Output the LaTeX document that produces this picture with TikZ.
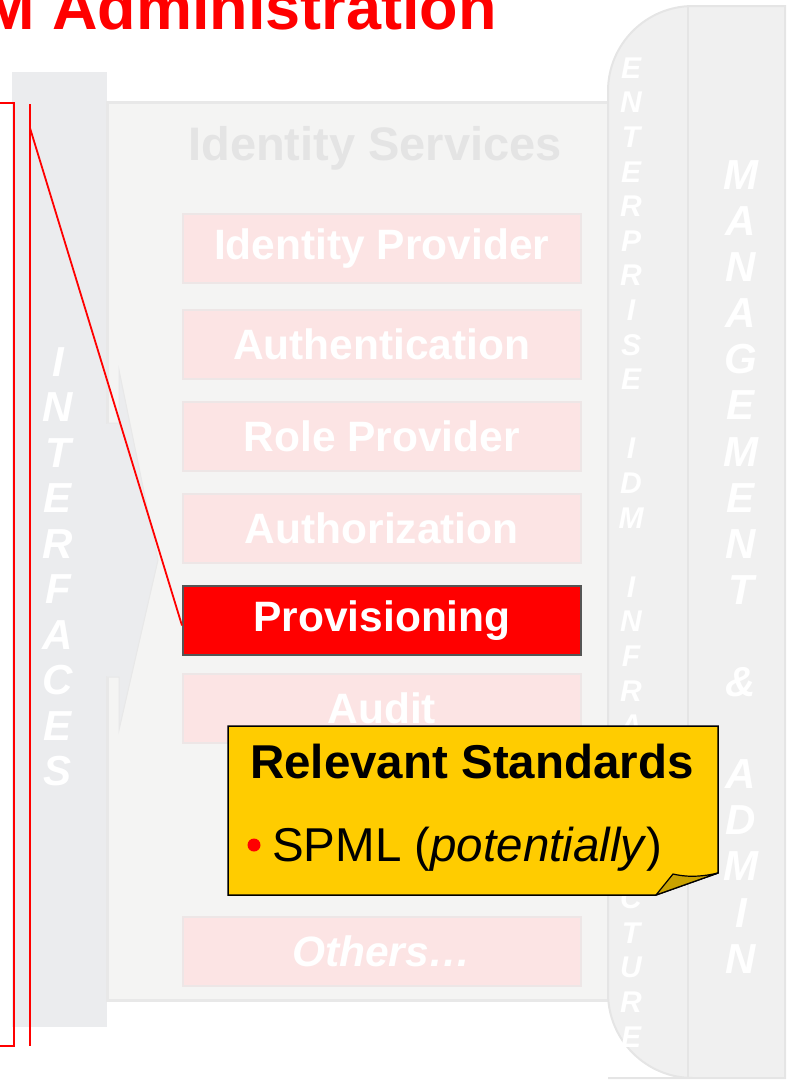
\documentclass[tikz,border=0pt]{standalone}
\usepackage{fontspec}
\setmainfont{Liberation Sans}
\definecolor{ifacegray}{HTML}{EBECEE}
\definecolor{svcfill}{HTML}{F4F4F3}
\definecolor{svcedge}{HTML}{E8E8E8}
\definecolor{mgmtfill}{HTML}{F0F0F0}
\definecolor{mgmtedge}{HTML}{E5E5E5}
\definecolor{boxfill}{HTML}{FCE4E4}
\definecolor{boxedge}{HTML}{EDE6E6}
\definecolor{headgray}{HTML}{E4E4E4}
\definecolor{noteyellow}{HTML}{FFCC00}
\definecolor{notefold}{HTML}{C9A200}
\definecolor{provedge}{HTML}{555555}
\begin{document}
\begin{tikzpicture}[x=1pt,y=-1pt,
  svcbox/.style={draw=boxedge, line width=1.5pt, fill=boxfill, anchor=north west,
    minimum width=398pt, minimum height=69pt, inner sep=0pt, text=white,
    font=\bfseries\fontsize{42.5}{48}\selectfont},
  activebox/.style={svcbox, fill=red, draw=provedge, line width=2pt},
  panel/.style={anchor=north west, inner sep=0pt, outer sep=0pt},
  zoomline/.style={draw=red, line width=1.8pt},
  bigletter/.style={text=white, inner sep=0pt, font=\bfseries\itshape\fontsize{42}{46}\selectfont},
  smallletter/.style={text=white, inner sep=0pt, font=\bfseries\itshape\fontsize{30}{34}\selectfont}
]
\useasboundingbox (0,0) rectangle (789,1080);
\clip (0,0) rectangle (789,1080);

% title
\node[anchor=base east, inner sep=0pt, text=red,
      font=\bfseries\fontsize{63}{70}\selectfont] (title) at (497,29) {M Administration};

% interfaces column
\node[panel, fill=ifacegray, minimum width=95pt, minimum height=955pt] (iface) at (12,72) {};

% identity services panel
\node[panel, fill=svcfill, draw=svcedge, line width=3pt,
      minimum width=501pt, minimum height=898pt] (svc) at (107,102) {};

% management and infrastructure column
\draw[fill=mgmtfill, draw=mgmtedge, line width=2pt]
  (785,6) -- (693,6) [rounded corners=85pt] -- (608,6) -- (608,1078) -- (693,1078)
  [sharp corners] -- (785,1078) -- cycle;
\draw[mgmtedge, line width=2pt] (688,6) -- (688,1078);

% arrow from the interfaces into the services
\draw[fill=ifacegray, draw=svcedge, line width=1pt]
  (107,423) -- (119,423) -- (119,370) -- (158,560) -- (119,730) -- (119,677) -- (107,677);
\fill[ifacegray] (100,424) rectangle (118.5,676);

% panel heading
\node[text=headgray, font=\bfseries\fontsize{47}{52}\selectfont] (svchead) at (375,148) {Identity Services};

% services
\node[svcbox] (idp)   at (182,213) {Identity Provider};
\node[svcbox] (authn) at (182,309) {Authentication};
\node[svcbox] (role)  at (182,401) {Role Provider};
\node[svcbox] (authz) at (182,493) {Authorization};
\node[activebox] (prov) at (182,585) {Provisioning};
\node[svcbox] (audit) at (182,673) {Audit};
\node[svcbox, font=\bfseries\itshape\fontsize{42.5}{48}\selectfont] (others) at (182,916) {Others\ldots};

% stacked column labels
\foreach \c [count=\i from 0] in {I,N,T,E,R,F,A,C,E,S}
  \node[bigletter] (if\i) at (58,362+\i*45.5) {\c};
\foreach \c [count=\i from 0] in {E,N,T,E,R,P,R,I,S,E}
  \node[smallletter] (en\i) at (631,68+\i*34.6) {\c};
\foreach \c [count=\i from 11] in {I,D,M}
  \node[smallletter] (idm\i) at (631,68+\i*34.6) {\c};
\foreach \c [count=\i from 15] in {I,N,F,R,A,S,T,R,U,C,T,U,R,E}
  \node[smallletter] (inf\i) at (631,68+\i*34.6) {\c};
\foreach \c [count=\i from 0] in {M,A,N,A,G,E,M,E,N,T}
  \node[bigletter] (mg\i) at (741,175+\i*46.1) {\c};
\node[bigletter] (amp) at (741,175+11*46.1) {\&};
\foreach \c [count=\i from 13] in {A,D,M,I,N}
  \node[bigletter] (ad\i) at (741,175+\i*46.1) {\c};

% zoom lines
\coordinate (bt) at (14,103);
\coordinate (bb) at (14,1046);
\draw[zoomline] (0,103) -- (bt) -- (bb) -- (0,1046);
\coordinate (lt) at (30,104);
\coordinate (lb) at (30,1046);
\draw[zoomline] (lt) -- (lb);
\coordinate (lz) at (30,128);
\draw[zoomline] (lz) -- ([yshift=-5pt]prov.west);

% note
\draw[fill=noteyellow, draw=black, line width=1.5pt]
  (228,726) -- (718,726) -- (718,873) -- (656,895) -- (228,895) -- cycle;
\draw[fill=notefold, draw=black, line width=1.2pt, line join=round]
  (656,895) -- (673,874) .. controls (690,878) and (705,876) .. (718,873) -- cycle;
\node[anchor=base west, inner sep=0pt, font=\bfseries\fontsize{47.5}{52}\selectfont] (nhead) at (250,778) {Relevant Standards};
\fill[red] (254,845) circle (6.5pt);
\node[anchor=base west, inner sep=0pt, font=\fontsize{47.5}{52}\selectfont] (nitem) at (272,861) {SPML (\textit{potentially})};
\end{tikzpicture}
\end{document}
